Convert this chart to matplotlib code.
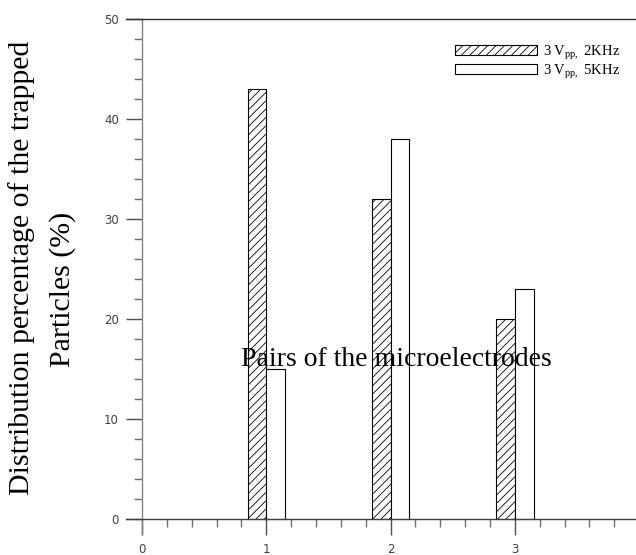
import numpy as np
import matplotlib
matplotlib.use("Agg")
import matplotlib.pyplot as plt

plt.rcParams['mathtext.fontset'] = 'custom'
plt.rcParams['mathtext.rm'] = 'Liberation Serif'
plt.rcParams['hatch.linewidth'] = 0.6

pairs = [1, 2, 3]
vals_2k = [43, 32, 20]
vals_5k = [15, 38, 23]
labels = [r"3 V$_{\mathrm{pp,}}$ 2KHz", r"3 V$_{\mathrm{pp,}}$ 5KHz"]

W, H = 636, 555
fig = plt.figure(figsize=(W / 100, H / 100), dpi=100)
ax = fig.add_axes([125.8 / W, 1 - 534 / H, (636.7 - 125.8) / W, (534 - 19) / H])

x = np.array(pairs)
w = 0.15
ax.bar(x - w / 2, vals_2k, w, color='white', edgecolor='black', hatch='////', linewidth=0.8, label=labels[0])
ax.bar(x + w / 2, vals_5k, w, color='white', edgecolor='black', linewidth=0.8, label=labels[1])

ax.set_xlim(-0.13, 3.98)
ax.set_ylim(-1.5, 50)
ax.spines['left'].set_position(('data', 0))
ax.spines['bottom'].set_position(('data', 0))
ax.spines['right'].set_visible(False)
ax.spines['left'].set_color('#808080')
ax.spines['bottom'].set_color('#404040')
ax.spines['top'].set_color('#303030')
for s in ax.spines.values():
    s.set_linewidth(1.0)

ax.set_xticks([0, 1, 2, 3])
ax.set_xticks(np.arange(0, 4.0, 0.2), minor=True)
ax.set_yticks(np.arange(0, 51, 10))
ax.set_yticks(np.arange(0, 51, 2), minor=True)
ax.tick_params(axis='both', which='major', direction='out', length=11.5, width=1, color='#505050',
               labelsize=8.5, labelcolor='#404040')
ax.tick_params(axis='both', which='minor', direction='out', length=5.5, width=1, color='#707070')
ax.tick_params(axis='x', which='major', pad=6)
ax.tick_params(axis='y', which='major', pad=5)

ax.text(396, H - 360, "Pairs of the microelectrodes", transform=None, ha='center', va='center',
        family='Liberation Serif', fontsize=20)
fig.text(22 / W, 1 - 268 / H, "Distribution percentage of the trapped", rotation=90,
         ha='center', va='center', family='Liberation Serif', fontsize=21.5)
fig.text(63 / W, 1 - 289 / H, "Particles (%)", rotation=90,
         ha='center', va='center', family='Liberation Serif', fontsize=21.5)

ax.legend(loc='upper left', bbox_to_anchor=(448 / W, 1 - 36 / H), bbox_transform=fig.transFigure,
          frameon=False, prop={'family': 'Liberation Serif', 'size': 10.5},
          handlelength=5.6, handleheight=0.7, handletextpad=0.4, labelspacing=0.02, borderpad=0)

fig.savefig("out.png", dpi=100)
